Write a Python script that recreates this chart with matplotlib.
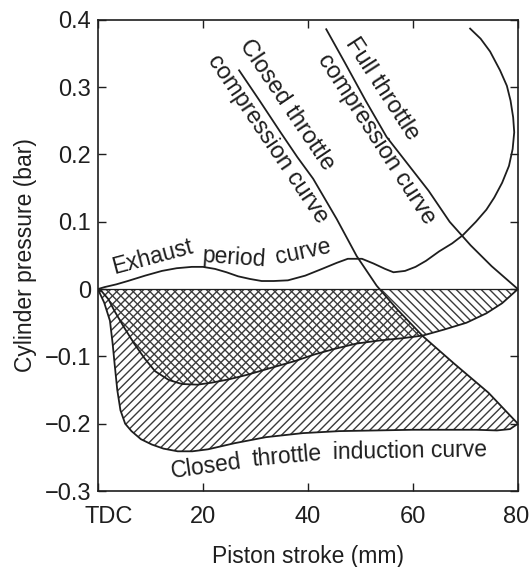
import numpy as np
import matplotlib
matplotlib.use('Agg')
import matplotlib.pyplot as plt
from matplotlib.transforms import ScaledTranslation

plt.rcParams['font.family'] = ['Liberation Sans', 'DejaVu Sans']
plt.rcParams['hatch.linewidth'] = 1.0

INK = '#1e1e1e'
HATCH = '#3a3a3a'

# piston stroke (mm) / cylinder pressure (bar)
exhaust_x = [0, 1.3, 3.5, 5.7, 9, 12.2, 15, 17.9, 20, 22.3, 24.5, 26.7, 29, 31.2, 33.5,
             36.2, 39.5, 42.7, 45.5, 47.6, 50.3, 52.5, 54.7, 56.3, 58.5, 60.5, 62.5,
             65, 67.5, 69.5, 72, 74, 75.5, 77, 78.3, 79, 79.3, 79.1, 78.6, 77.9,
             76.6, 74.7, 72.9, 70.9]
exhaust_y = [0, 0.003, 0.007, 0.012, 0.02, 0.027, 0.031, 0.033, 0.033, 0.030, 0.025,
             0.019, 0.015, 0.012, 0.012, 0.013, 0.02, 0.030, 0.039, 0.045, 0.045,
             0.038, 0.030, 0.025, 0.027, 0.033, 0.042, 0.056, 0.068, 0.080, 0.100,
             0.118, 0.136, 0.158, 0.183, 0.208, 0.233, 0.255, 0.280, 0.302, 0.325,
             0.353, 0.372, 0.387]

upper_x = [0, 0.7, 2, 3.2, 5, 7, 9, 10.9, 13.5, 16, 19, 21.7, 25, 28.6, 33, 37.5,
           41.3, 45, 49.2, 54, 58, 61.9, 66, 70.2, 74, 77, 80]
upper_y = [0, -0.003, -0.015, -0.033, -0.057, -0.082, -0.104, -0.122, -0.135,
           -0.141, -0.142, -0.139, -0.134, -0.127, -0.117, -0.107, -0.097, -0.089,
           -0.081, -0.076, -0.073, -0.069, -0.060, -0.050, -0.036, -0.021, 0]

induction_x = [0, 1.2, 2.3, 2.8, 3.2, 3.7, 4.3, 5.2, 6.4, 8.2, 10.3, 12.5, 15.2, 18,
               21, 26, 32, 39, 46, 53, 60, 66, 72, 76, 78.5, 80]
induction_y = [0, -0.02, -0.047, -0.08, -0.112, -0.15, -0.18, -0.2, -0.211, -0.223,
               -0.231, -0.237, -0.241, -0.241, -0.238, -0.229, -0.22, -0.214, -0.211,
               -0.21, -0.209, -0.209, -0.209, -0.21, -0.208, -0.2]

closed_comp_x = [26.9, 30.8, 34.7, 38, 41, 45.5, 49.3, 53.1, 57, 61.9, 67.9, 74.4, 80]
closed_comp_y = [0.325, 0.280, 0.234, 0.196, 0.164, 0.104, 0.049, 0.005, -0.03,
                 -0.07, -0.111, -0.154, -0.2]

full_comp_x = [43.5, 47, 51, 55, 59, 63, 67, 71, 75, 80]
full_comp_y = [0.386, 0.337, 0.280, 0.226, 0.186, 0.146, 0.100, 0.065, 0.034, 0.0]

x_ticks = [0, 20, 40, 60, 80]
x_labels = ['TDC', '20', '40', '60', '80']
y_ticks = [-0.3, -0.2, -0.1, 0, 0.1, 0.2, 0.3, 0.4]
y_labels = ['\u22120.3', '\u22120.2', '\u22120.1', '0', '0.1', '0.2', '0.3', '0.4']

fig = plt.figure(figsize=(5.29, 5.67), dpi=100)
ax = fig.add_axes([0.185, 0.134, 0.794, 0.831])

# pumping loop: zero line / closed throttle compression down to the induction curve
cx = np.array(closed_comp_x)
cy = np.array(closed_comp_y)
x0 = np.interp(0.0, cy[::-1], cx[::-1])
below = cy < 0
loop_x = np.concatenate([[0, x0], cx[below], np.array(induction_x)[::-1]])
loop_y = np.concatenate([[0, 0], cy[below], np.array(induction_y)[::-1]])
ax.fill(loop_x, loop_y, fill=False, hatch='////', edgecolor=HATCH, linewidth=0)

# area between zero line and the upper induction curve
ax.fill(upper_x, upper_y, fill=False, hatch='\\\\\\\\', edgecolor=HATCH, linewidth=0)

ax.axhline(0, color=INK, lw=0.9)
for xs, ys in [(upper_x, upper_y), (induction_x, induction_y),
               (closed_comp_x, closed_comp_y), (full_comp_x, full_comp_y),
               (exhaust_x, exhaust_y)]:
    ax.plot(xs, ys, color=INK, lw=1.3)

ax.set_xlim(0, 80)
ax.set_ylim(-0.3, 0.4)
ax.set_xticks(x_ticks, x_labels)
ax.set_yticks(y_ticks, y_labels)
ax.tick_params(direction='in', length=6, width=1, top=True, right=True,
               labelsize=17, colors=INK)
ax.tick_params(axis='x', pad=11)
ax.tick_params(axis='y', pad=5)
for sp in ax.spines.values():
    sp.set_linewidth(1.2)
    sp.set_color(INK)

# nudge the end labels so TDC sits right of the corner and 80 stays inside
xt = ax.get_xticklabels()
xt[0].set_transform(xt[0].get_transform() + ScaledTranslation(0.11, 0, fig.dpi_scale_trans))
xt[-1].set_transform(xt[-1].get_transform() + ScaledTranslation(-0.02, 0, fig.dpi_scale_trans))

ax.set_xlabel('Piston stroke (mm)', fontsize=16.5, labelpad=12, color=INK)
ax.set_ylabel('Cylinder pressure (bar)', fontsize=16.5, labelpad=5, color=INK)

kw = dict(fontsize=16.5, color=INK, ha='center', va='center', rotation_mode='anchor')
ax.text(10.4, 0.047, 'Exhaust', rotation=15, **kw)
ax.text(26.0, 0.047, 'period', rotation=-4, **kw)
ax.text(39.0, 0.055, 'curve', rotation=12, **kw)

kw['fontsize'] = 17
ax.text(35.9, 0.273, 'Closed throttle', rotation=-56, **kw)
ax.text(32.3, 0.223, 'compression curve', rotation=-56, **kw)
ax.text(54.2, 0.298, 'Full throttle', rotation=-57, **kw)
ax.text(53.0, 0.223, 'compression curve', rotation=-57, **kw)

kw['fontsize'] = 16.5
ax.text(20.7, -0.264, 'Closed', rotation=8, **kw)
ax.text(36.0, -0.249, 'throttle', rotation=5, **kw)
ax.text(59.4, -0.241, 'induction curve', rotation=1, **kw)

fig.savefig('out.png', dpi=100)
